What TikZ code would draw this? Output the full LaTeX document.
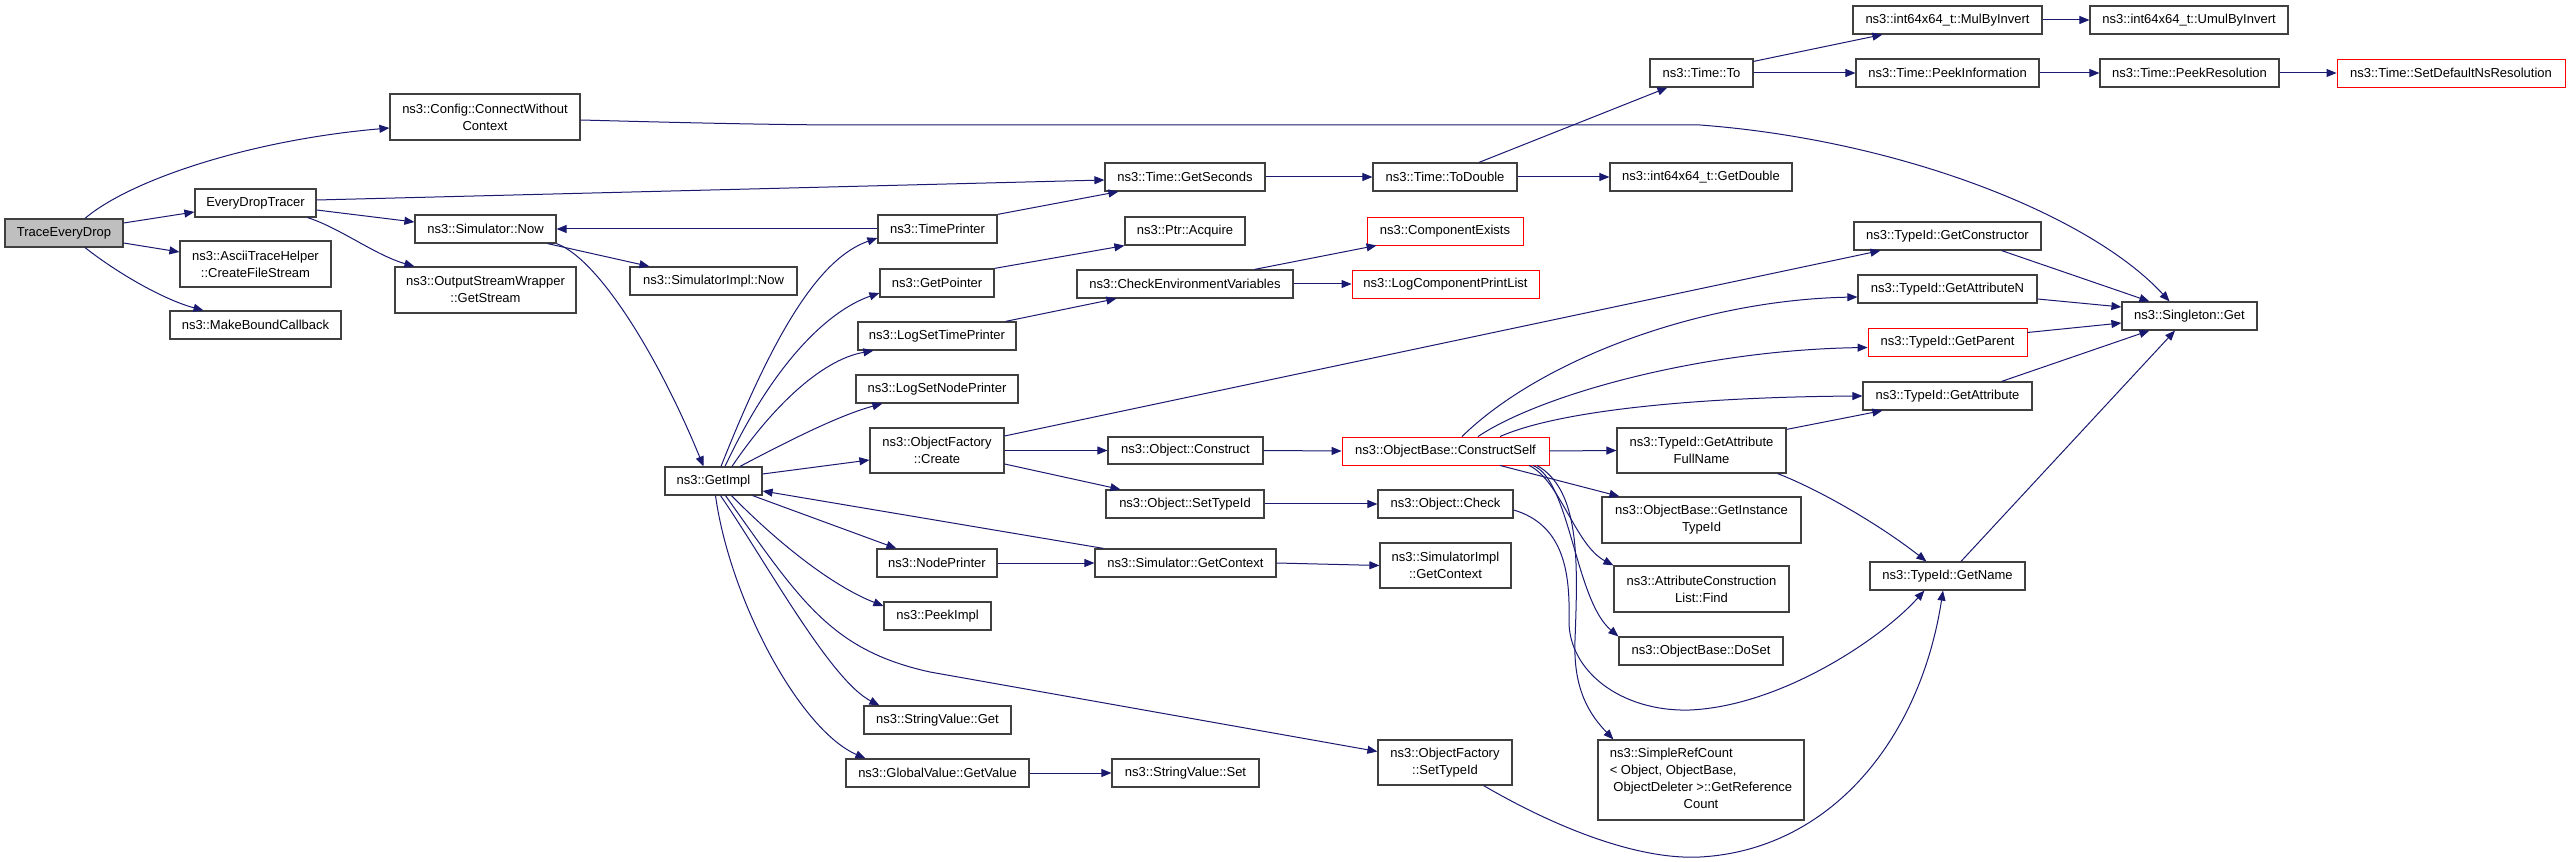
\documentclass[tikz,border=0pt]{standalone}
\usepackage{fontspec}
\setmainfont{Liberation Sans}
\usetikzlibrary{arrows.meta,calc}
\definecolor{eblue}{HTML}{191970}
\definecolor{bgray}{HTML}{BFBFBF}
\definecolor{bord}{HTML}{404040}
\definecolor{bred}{HTML}{FF0000}
\tikzset{
  box/.style={draw=bord,fill=white,line width=0.9pt,inner sep=0pt,align=center,
    font=\fontsize{9.75}{12.75}\selectfont,text=black},
  redbox/.style={draw=bred,line width=0.7pt},
  rootbox/.style={fill=bgray},
  edge/.style={draw=eblue,line width=0.75pt,-{Triangle[length=7.5pt,width=6pt]}}
}
\newcommand{\Nd}[7][]{%
  \pgfmathsetmacro{\ndw}{(#5-#3)*0.75}%
  \pgfmathsetmacro{\ndh}{(#6-#4)*0.75}%
  \node[box,#1,minimum width=\ndw pt,minimum height=\ndh pt] (#2) at ({(#3+#5)/2},{(#4+#6)/2}) {#7};}
\begin{document}
\begin{tikzpicture}[x=0.75pt,y=-0.75pt]
\useasboundingbox (0,0) rectangle (2573,862);
% nodes
\Nd[rootbox]{TED}{5}{219}{123}{247}{TraceEveryDrop}
\Nd{CWC}{390}{94}{580}{140}{ns3::Config::ConnectWithout\\Context}
\Nd{EDT}{195}{189}{316}{217}{EveryDropTracer}
\Nd{ATH}{180}{241}{331}{287}{ns3::AsciiTraceHelper\\::CreateFileStream}
\Nd{MBC}{170}{311}{341}{339}{ns3::MakeBoundCallback}
\Nd{SN}{415}{215}{556}{243}{ns3::Simulator::Now}
\Nd{OSW}{395}{267}{576}{313}{ns3::OutputStreamWrapper\\::GetStream}
\Nd{SIN}{630}{267}{797}{295}{ns3::SimulatorImpl::Now}
\Nd{GS}{1105}{163}{1265}{191}{ns3::Time::GetSeconds}
\Nd{TP}{878}{215}{997}{243}{ns3::TimePrinter}
\Nd{PA}{1125}{217}{1245}{245}{ns3::Ptr::Acquire}
\Nd{GP}{880}{269}{994}{297}{ns3::GetPointer}
\Nd{CEV}{1077}{270}{1293}{298}{ns3::CheckEnvironmentVariables}
\Nd{LSTP}{858}{322}{1016}{350}{ns3::LogSetTimePrinter}
\Nd{LSNP}{856}{375}{1018}{403}{ns3::LogSetNodePrinter}
\Nd{OFC}{870}{428}{1004}{473}{ns3::ObjectFactory\\::Create}
\Nd{To}{1650}{59}{1753}{87}{ns3::Time::To}
\Nd{MBI}{1853}{6}{2042}{34}{ns3::int64x64\_t::MulByInvert}
\Nd{PI}{1856}{59}{2039}{87}{ns3::Time::PeekInformation}
\Nd{UBI}{2090}{6}{2288}{34}{ns3::int64x64\_t::UmulByInvert}
\Nd{PR}{2100}{59}{2279}{87}{ns3::Time::PeekResolution}
\Nd[redbox]{SDNR}{2337}{59}{2565}{87}{ns3::Time::SetDefaultNsResolution}
\Nd{TD}{1373}{163}{1517}{191}{ns3::Time::ToDouble}
\Nd{GD}{1610}{163}{1792}{191}{ns3::int64x64\_t::GetDouble}
\Nd[redbox]{CE}{1367}{217}{1523}{245}{ns3::ComponentExists}
\Nd[redbox]{LCPL}{1352}{270}{1539}{298}{ns3::LogComponentPrintList}
\Nd{GC}{1854}{222}{2041}{250}{ns3::TypeId::GetConstructor}
\Nd{GAN}{1858}{275}{2037}{303}{ns3::TypeId::GetAttributeN}
\Nd[redbox]{GPar}{1868}{328}{2027}{356}{ns3::TypeId::GetParent}
\Nd{GA}{1863}{382}{2032}{410}{ns3::TypeId::GetAttribute}
\Nd{GAFN}{1617}{428}{1786}{473}{ns3::TypeId::GetAttribute\\FullName}
\Nd{SG}{2122}{302}{2257}{330}{ns3::Singleton::Get}
\Nd{GI}{665}{467}{762}{495}{ns3::GetImpl}
\Nd{OC}{1108}{437}{1263}{464}{ns3::Object::Construct}
\Nd{OST}{1106}{490}{1264}{518}{ns3::Object::SetTypeId}
\Nd{NP}{877}{549}{997}{577}{ns3::NodePrinter}
\Nd{SGC}{1095}{549}{1276}{577}{ns3::Simulator::GetContext}
\Nd{PK}{884}{602}{991}{630}{ns3::PeekImpl}
\Nd{SVG}{864}{706}{1011}{734}{ns3::StringValue::Get}
\Nd{GV}{846}{759}{1029}{787}{ns3::GlobalValue::GetValue}
\Nd{SVS}{1112}{759}{1259}{787}{ns3::StringValue::Set}
\Nd[redbox]{CS}{1342}{437}{1549}{465}{ns3::ObjectBase::ConstructSelf}
\Nd{OCk}{1378}{490}{1513}{518}{ns3::Object::Check}
\Nd{SIGC}{1380}{543}{1511}{588}{ns3::SimulatorImpl\\::GetContext}
\Nd{GIT}{1602}{497}{1801}{543}{ns3::ObjectBase::GetInstance\\TypeId}
\Nd{FIND}{1614}{566}{1789}{612}{ns3::AttributeConstruction\\List::Find}
\Nd{DS}{1619}{637}{1783}{665}{ns3::ObjectBase::DoSet}
\Nd{OFST}{1378}{740}{1512}{785}{ns3::ObjectFactory\\::SetTypeId}
\Nd{SRC}{1598}{740}{1804}{820}{\begin{tabular}{@{}l@{}}ns3::SimpleRefCount\\\textless{} Object, ObjectBase,\\\ ObjectDeleter \textgreater::GetReference\\\multicolumn{1}{@{}c@{}}{Count}\end{tabular}}
\Nd{GN}{1870}{562}{2025}{590}{ns3::TypeId::GetName}
% edges
\draw[edge] ($(TED.north)+(21,0)$) .. controls (130,180) and (250,140) .. ($(CWC.west)+(0,11)$);
\draw[edge] ($(TED.east)+(0,-10)$) -- ($(EDT.west)+(0,9)$);
\draw[edge] ($(TED.east)+(0,10)$) -- ($(ATH.west)+(0,-12)$);
\draw[edge] ($(TED.south)+(21,0)$) .. controls (120,275) and (165,300) .. ($(MBC.north)+(-52,0)$);
\draw[edge] ($(EDT.east)+(0,-3)$) -- ($(GS.west)+(0,3)$);
\draw[edge] ($(EDT.east)+(0,7)$) -- ($(SN.west)+(0,-7)$);
\draw[edge] ($(EDT.south east)+(-9,0)$) .. controls (340,228) and (375,255) .. ($(OSW.north west)+(20,0)$);
\draw[edge] ($(SN.south east)+(-9,0)$) -- ($(SIN.north west)+(20,0)$);
\draw[edge] (SN.south east) .. controls (600,260) and (660,360) .. ($(GI.north)+(-10,0)$);
\draw[edge] (TP.west) -- (SN.east);
\draw[edge] (TP.north east) -- ($(GS.south west)+(14,0)$);
\draw[edge] ($(GI.north)+(7.5,0)$) .. controls (775,330) and (820,258) .. ($(TP.west)+(0,9)$);
\draw[edge] ($(GI.north)+(11.5,0)$) .. controls (775,360) and (830,310) .. ($(GP.west)+(0,10)$);
\draw[edge] ($(GI.north)+(18.5,0)$) .. controls (770,410) and (820,360) .. ($(LSTP.south west)+(16,0)$);
\draw[edge] ($(GI.north)+(26.5,0)$) .. controls (790,440) and (840,415) .. ($(LSNP.south west)+(27,0)$);
\draw[edge] ($(GI.east)+(0,-7)$) -- ($(OFC.west)+(0,9.5)$);
\draw[edge] ($(GI.south east)+(-10,0)$) -- ($(NP.north west)+(20,0)$);
\draw[edge] ($(SGC.north west)+(9,0)$) -- ($(GI.east)+(0,10)$);
\draw[edge] ($(GI.south)+(18,0)$) .. controls (775,540) and (830,585) .. ($(PK.west)+(0,-10)$);
\draw[edge] ($(GI.south)+(7,0)$) .. controls (765,560) and (830,680) .. ($(SVG.north west)+(16,0)$);
\draw[edge] ($(GI.south)+(2,0)$) .. controls (730,600) and (800,730) .. ($(GV.north west)+(20,0)$);
\draw[edge] ($(GI.south)+(12,0)$) .. controls (800,600) and (830,650) .. (930,672) -- ($(OFST.west)+(0,-11)$);
\draw[edge] (NP.east) -- (SGC.west);
\draw[edge] (SGC.east) -- (SIGC.west);
\draw[edge] (OFC.east) -- (OC.west);
\draw[edge] ($(OFC.east)+(0,13.5)$) -- ($(OST.north west)+(15,0)$);
\draw[edge] ($(OFC.east)+(0,-14.5)$) -- ($(GC.south west)+(27,0)$);
\draw[edge] (OC.east) -- (CS.west);
\draw[edge] (OST.east) -- (OCk.west);
\draw[edge] (GV.east) -- (SVS.west);
\draw[edge] (GP.north east) -- (PA.south west);
\draw[edge] ($(LSTP.north east)+(-11,0)$) -- ($(CEV.south west)+(40,0)$);
\draw[edge] ($(CEV.north east)+(-39,0)$) -- ($(CE.south west)+(10,0)$);
\draw[edge] (CEV.east) -- (LCPL.west);
\draw[edge] (GS.east) -- (TD.west);
\draw[edge] ($(TD.north)+(34,0)$) -- ($(To.south west)+(18,0)$);
\draw[edge] (TD.east) -- (GD.west);
\draw[edge] ($(To.north east)+(0,3)$) -- ($(MBI.south west)+(30,0)$);
\draw[edge] (To.east) -- (PI.west);
\draw[edge] (MBI.east) -- (UBI.west);
\draw[edge] (PI.east) -- (PR.west);
\draw[edge] (PR.east) -- (SDNR.west);
\draw[edge] ($(CWC.east)+(0,3)$) .. controls (620,121) and (760,125) .. (850,125) -- (1700,125) .. controls (1900,140) and (2090,215) .. ($(SG.north)+(-20,0)$);
\draw[edge] ($(GC.south east)+(-40,0)$) -- ($(SG.north west)+(28,0)$);
\draw[edge] ($(GAN.east)+(0,10)$) -- ($(SG.west)+(0,-9)$);
\draw[edge] ($(GPar.east)+(0,-9.5)$) -- ($(SG.west)+(0,7)$);
\draw[edge] ($(GA.north east)+(-31,0)$) -- ($(SG.south west)+(28,0)$);
\draw[edge] ($(GN.north)+(13.5,0)$) -- ($(SG.south)+(-14.5,0)$);
\draw[edge] ($(CS.north)+(16.5,0)$) .. controls (1540,360) and (1700,300) .. ($(GAN.west)+(0,8)$);
\draw[edge] ($(CS.north)+(32.5,0)$) .. controls (1540,395) and (1700,350) .. ($(GPar.west)+(0,5.5)$);
\draw[edge] ($(CS.north)+(54.5,0)$) .. controls (1560,410) and (1700,397) .. (GA.west);
\draw[edge] (CS.east) -- (GAFN.west);
\draw[edge] ($(CS.south)+(54.5,0)$) -- ($(GIT.north west)+(18,0)$);
\draw[edge] ($(CS.south)+(83.5,0)$) .. controls (1560,480) and (1575,545) .. (FIND.north west);
\draw[edge] ($(CS.south)+(87.5,0)$) .. controls (1570,480) and (1575,600) .. (DS.north west);
\draw[edge] ($(CS.south)+(91.5,0)$) .. controls (1580,490) and (1578,560) .. (1575,640) .. controls (1573,690) and (1590,715) .. ($(SRC.north west)+(16,0)$);
\draw[edge] ($(OCk.east)+(0,6)$) .. controls (1565,525) and (1570,575) .. (1569,620) .. controls (1568,670) and (1620,712) .. (1690,710) .. controls (1780,706) and (1880,640) .. ($(GN.south west)+(55,0)$);
\draw[edge] ($(GAFN.north east)+(0,2)$) -- ($(GA.south west)+(20,0)$);
\draw[edge] ($(GAFN.south east)+(-9,0)$) .. controls (1820,490) and (1880,525) .. ($(GN.north west)+(57,0)$);
\draw[edge] ($(OFST.south east)+(-29,0)$) .. controls (1560,830) and (1640,860) .. (1700,857) .. controls (1830,850) and (1920,740) .. ($(GN.south)+(-4.5,0)$);
\end{tikzpicture}
\end{document}
